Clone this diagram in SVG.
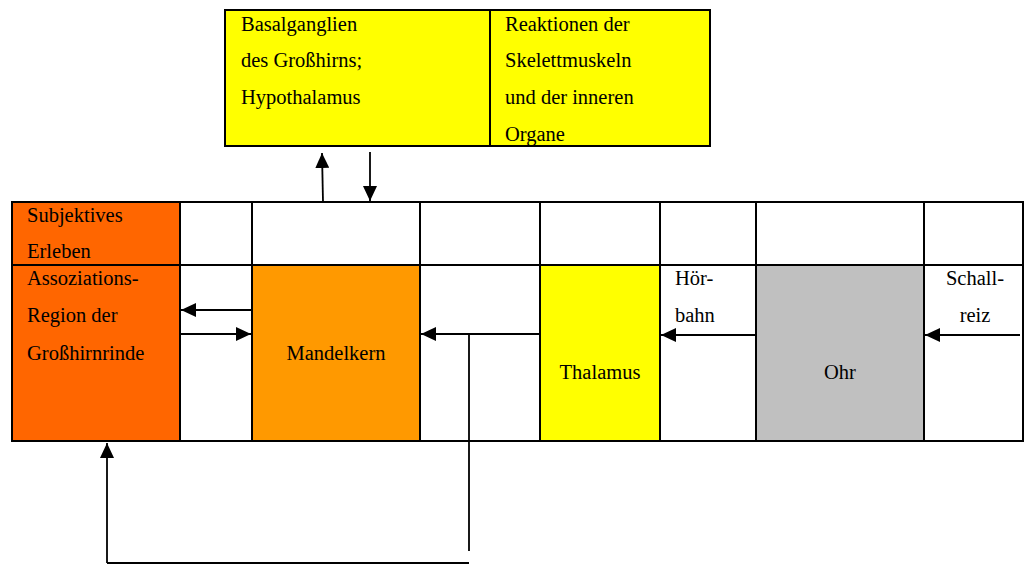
<svg xmlns="http://www.w3.org/2000/svg" width="1026" height="565" viewBox="0 0 1026 565">
<style>
text{font-family:"Times New Roman","Liberation Serif",Tinos,"Noto Serif",serif;font-size:20.5px;fill:#000}
.c{text-anchor:middle}
.cell{stroke:#000;stroke-width:2}
.ln{stroke:#000;stroke-width:1.8;fill:none}
</style>
<defs>
<marker id="ah" markerUnits="userSpaceOnUse" markerWidth="16" markerHeight="14" refX="15" refY="7" orient="auto">
<path d="M0,0 L15,7 L0,14 Z" fill="#000"/>
</marker>
</defs>
<rect width="1026" height="565" fill="#fff"/>
<g id="top-box">
<rect class="cell" x="225" y="10" width="485" height="136" fill="#FFFF00"/>
<line class="cell" x1="490" y1="10" x2="490" y2="146"/>
<text x="241" y="31">Basalganglien</text>
<text x="241" y="67">des Großhirns;</text>
<text x="241" y="104">Hypothalamus</text>
<text x="505" y="31">Reaktionen der</text>
<text x="505" y="67">Skelettmuskeln</text>
<text x="505" y="104">und der inneren</text>
<text x="505" y="141">Organe</text>
</g>
<g id="table">
<rect x="12" y="202" width="168" height="239" fill="#FF6600"/>
<rect x="252" y="265" width="168" height="176" fill="#FF9900"/>
<rect x="540" y="265" width="120" height="176" fill="#FFFF00"/>
<rect x="756" y="265" width="168" height="176" fill="#C0C0C0"/>
<rect class="cell" x="12" y="202" width="1011" height="239" fill="none"/>
<line class="cell" x1="12" y1="265" x2="1023" y2="265"/>
<line class="cell" x1="180" y1="202" x2="180" y2="441"/>
<line class="cell" x1="252" y1="202" x2="252" y2="441"/>
<line class="cell" x1="420" y1="202" x2="420" y2="441"/>
<line class="cell" x1="540" y1="202" x2="540" y2="441"/>
<line class="cell" x1="660" y1="202" x2="660" y2="441"/>
<line class="cell" x1="756" y1="202" x2="756" y2="441"/>
<line class="cell" x1="924" y1="202" x2="924" y2="441"/>
</g>
<g id="subjektives-erleben">
<text x="27" y="222">Subjektives</text>
<text x="27" y="258">Erleben</text>
</g>
<g id="assoziations-region">
<text x="27" y="285">Assoziations-</text>
<text x="27" y="322">Region der</text>
<text x="27" y="360">Großhirnrinde</text>
</g>
<g id="mandelkern"><text class="c" x="336" y="360">Mandelkern</text></g>
<g id="thalamus"><text class="c" x="600" y="379">Thalamus</text></g>
<g id="hoerbahn">
<text x="675" y="285">Hör-</text>
<text x="675" y="322">bahn</text>
</g>
<g id="ohr"><text class="c" x="840" y="379">Ohr</text></g>
<g id="schallreiz">
<text class="c" x="975" y="285">Schall-</text>
<text class="c" x="975" y="322">reiz</text>
</g>
<g id="connectors">
<line class="ln" x1="323" y1="202" x2="322" y2="153" marker-end="url(#ah)"/>
<line class="ln" x1="370" y1="152" x2="370" y2="201" marker-end="url(#ah)"/>
<line class="ln" x1="253" y1="310" x2="181" y2="310" marker-end="url(#ah)"/>
<line class="ln" x1="180" y1="334" x2="251" y2="334" marker-end="url(#ah)"/>
<line class="ln" x1="540" y1="334" x2="421" y2="334" marker-end="url(#ah)"/>
<line class="ln" x1="469" y1="334" x2="469" y2="551"/>
<line class="ln" x1="756" y1="335" x2="661" y2="335" marker-end="url(#ah)"/>
<line class="ln" x1="1020" y1="335" x2="925" y2="335" marker-end="url(#ah)"/>
<line class="ln" x1="469" y1="563" x2="107" y2="563"/>
<line class="ln" x1="107" y1="563" x2="107" y2="443" marker-end="url(#ah)"/>
</g>
</svg>
